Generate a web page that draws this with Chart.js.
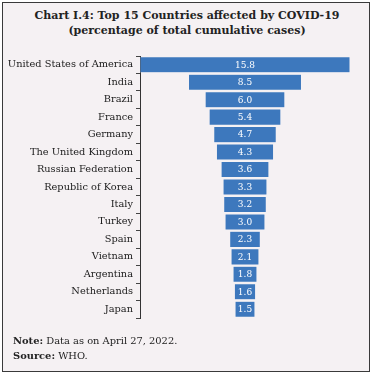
<!DOCTYPE html>
<html><head><meta charset="utf-8">
<script src="https://cdn.jsdelivr.net/npm/chart.js@4.4.0/dist/chart.umd.min.js"></script>
<style>
html,body{margin:0;padding:0;background:#fff;}
#wrap{position:relative;width:374px;height:375px;}
#frame{position:absolute;left:2px;top:2px;width:366px;height:368px;border:1.5px solid #3a3a3a;background:#f5f1f3;}
#title{position:absolute;left:0;top:8px;width:374px;text-align:center;font-family:"DejaVu Serif","Liberation Serif",serif;font-weight:bold;font-size:11px;line-height:15px;color:#222;}
#notes{position:absolute;left:13px;top:333px;font-family:"DejaVu Serif",serif;font-size:9.9px;line-height:15px;color:#222;}
canvas{position:absolute;left:0;top:0;}
</style></head>
<body>
<div id="wrap">
<div id="frame"></div>
<div id="title">Chart I.4: Top 15 Countries affected by COVID-19<br>(percentage of total cumulative cases)</div>
<canvas id="c" width="374" height="375"></canvas>
<div id="notes"><b>Note:</b> Data as on April 27, 2022.<br><b>Source:</b> WHO.</div>
</div>
<script>
const countries = ["United States of America","India","Brazil","France","Germany","The United Kingdom","Russian Federation","Republic of Korea","Italy","Turkey","Spain","Vietnam","Argentina","Netherlands","Japan"];
const shares = [15.8,8.5,6.0,5.4,4.7,4.3,3.6,3.3,3.2,3.0,2.3,2.1,1.8,1.6,1.5];

const labelPlugin = {
  id:'centerLabels',
  afterDatasetsDraw(chart){
    const ctx = chart.ctx;
    const meta = chart.getDatasetMeta(0);
    ctx.save();
    ctx.fillStyle = '#ffffff';
    ctx.font = '9px "DejaVu Serif", serif';
    ctx.textAlign = 'center';
    ctx.textBaseline = 'middle';
    meta.data.forEach((el,i)=>{
      const p = el.getProps(['x','y','base'],true);
      ctx.fillText(shares[i].toFixed(1),(p.x+p.base)/2,p.y+0.5);
    });
    ctx.restore();
  }
};

new Chart(document.getElementById('c'),{
  type:'bar',
  data:{
    labels:countries,
    datasets:[{
      data:shares.map(v=>[-v/2,v/2]),
      backgroundColor:'#3d78bd',
      borderColor:'rgba(255,255,255,0.35)',
      borderWidth:0.5,
      borderSkipped:false,
      barPercentage:0.92,
      categoryPercentage:1
    }]
  },
  options:{
    indexAxis:'y',
    responsive:false,
    animation:false,
    events:[],
    layout:{padding:{top:56,bottom:57,left:0,right:24}},
    plugins:{legend:{display:false},tooltip:{enabled:false},title:{display:false}},
    scales:{
      x:{display:false,min:-7.9,max:7.9},
      y:{
        afterFit(s){s.width=140;},
        grid:{display:true,drawOnChartArea:false,drawTicks:true,tickLength:4,color:'#444',offset:true},
        border:{display:true,color:'#333',width:1},
        ticks:{color:'#1a1a1a',padding:3,font:{family:'"DejaVu Serif", serif',size:9.8}}
      }
    }
  },
  plugins:[labelPlugin]
});
</script>
</body></html>
